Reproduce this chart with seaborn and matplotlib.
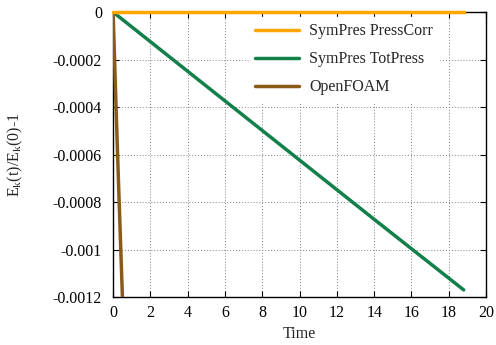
import matplotlib
matplotlib.use("Agg")
import matplotlib.pyplot as plt
import seaborn as sns
import pandas as pd
from matplotlib.ticker import FuncFormatter, MultipleLocator

# Data
t_presscorr = [0.0, 4.7, 9.4, 14.1, 18.8]
e_presscorr = [0.0, 0.0, 0.0, 0.0, 0.0]

t_totpress = [0.0, 4.7, 9.4, 14.1, 18.8]
e_totpress = [0.0, -0.000293, -0.000586, -0.000879, -0.00117]

t_openfoam = [0.0, 0.1, 0.2, 0.3, 0.4, 0.5, 0.6]
e_openfoam = [0.0, -0.00025, -0.0005, -0.00074, -0.00097, -0.00120, -0.00143]

labels = ["SymPres PressCorr", "SymPres TotPress", "OpenFOAM"]
colors = ["#ffa500", "#12804a", "#8b5a18"]

frames = []
for lab, t, e in zip(labels, [t_presscorr, t_totpress, t_openfoam],
                     [e_presscorr, e_totpress, e_openfoam]):
    frames.append(pd.DataFrame({"Time": t, "E": e, "series": lab}))
df = pd.concat(frames, ignore_index=True)

sns.set_style("ticks")
plt.rcParams["font.family"] = ["Liberation Serif", "DejaVu Serif"]
plt.rcParams["mathtext.fontset"] = "custom"
plt.rcParams["mathtext.rm"] = "Liberation Serif"
plt.rcParams["mathtext.it"] = "Liberation Serif"

FS = 11.5
fig = plt.figure(figsize=(4.96, 3.45), dpi=100)
ax = fig.add_axes([0.228, 0.139, 0.752, 0.826])

sns.lineplot(data=df, x="Time", y="E", hue="series", hue_order=labels,
             palette=colors, linewidth=2.5, ax=ax, sort=False)

ax.set_xlim(0, 20)
ax.set_ylim(-0.0012, 0)
for ln in ax.get_lines()[:3]:
    ln.set_zorder(3)
ax.get_lines()[0].set_clip_on(False)
ax.get_lines()[0].set_zorder(4)

ax.xaxis.set_major_locator(MultipleLocator(2))
ax.yaxis.set_major_locator(MultipleLocator(0.0002))

def yfmt(v, pos):
    if abs(v) < 1e-12:
        return "0"
    return f"{v:.4f}".rstrip("0").rstrip(".")
ax.yaxis.set_major_formatter(FuncFormatter(yfmt))

ax.grid(True, linestyle=(0, (1, 2)), color="#808080", linewidth=0.7)
ax.set_axisbelow(True)
ax.tick_params(direction="in", top=True, right=True, length=4, width=0.8,
               labelsize=FS, colors="black")
ax.tick_params(axis="y", pad=8)
ax.tick_params(axis="x", pad=6)
for sp in ax.spines.values():
    sp.set_linewidth(1.0)
    sp.set_color("black")

ax.set_xlabel("Time", fontsize=FS, labelpad=3)
ax.set_ylabel(r"E$_\mathrm{k}$(t)/E$_\mathrm{k}$(0)-1", fontsize=FS, labelpad=20)

leg = ax.legend(loc="upper left", frameon=True, fontsize=FS, handlelength=2.75,
                labelspacing=0.75, handletextpad=0.63, borderaxespad=0.0,
                borderpad=0.4, bbox_to_anchor=(0.3635, 0.983))
leg.get_frame().set_facecolor("white")
leg.get_frame().set_edgecolor("white")
leg.get_frame().set_alpha(1.0)
for line in leg.get_lines():
    line.set_linewidth(2.5)

fig.savefig("out.png", dpi=100)
